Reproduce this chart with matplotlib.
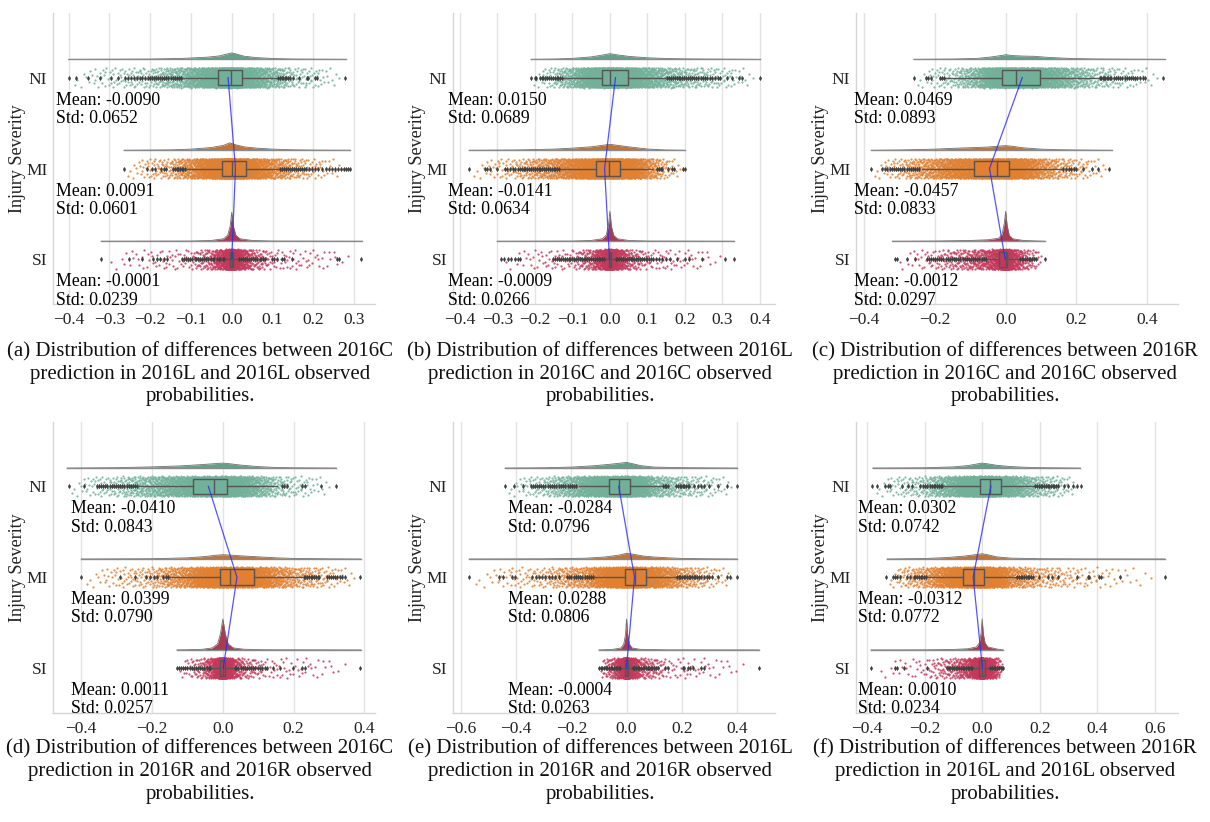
import numpy as np
import matplotlib
matplotlib.use("Agg")
import matplotlib.pyplot as plt

plt.rcParams['font.family'] = ['Liberation Serif', 'DejaVu Serif']

# ---------------------------------------------------------------- data
categories = ["NI", "MI", "SI"]

caption_line1 = ["(a) Distribution of differences between 2016C",
                 "(b) Distribution of differences between 2016L",
                 "(c) Distribution of differences between 2016R",
                 "(d) Distribution of differences between 2016C",
                 "(e) Distribution of differences between 2016L",
                 "(f) Distribution of differences between 2016R"]
caption_line2 = ["prediction in 2016L and 2016L observed",
                 "prediction in 2016C and 2016C observed",
                 "prediction in 2016C and 2016C observed",
                 "prediction in 2016R and 2016R observed",
                 "prediction in 2016R and 2016R observed",
                 "prediction in 2016L and 2016L observed"]
caption_line3 = ["probabilities."] * 6

x_ticks_a = [-0.4, -0.3, -0.2, -0.1, 0.0, 0.1, 0.2, 0.3]
x_ticks_b = [-0.4, -0.3, -0.2, -0.1, 0.0, 0.1, 0.2, 0.3, 0.4]
x_ticks_c = [-0.4, -0.2, 0.0, 0.2, 0.4]
x_ticks_d = [-0.4, -0.2, 0.0, 0.2, 0.4]
x_ticks_e = [-0.6, -0.4, -0.2, 0.0, 0.2, 0.4]
x_ticks_f = [-0.4, -0.2, 0.0, 0.2, 0.4, 0.6]

means_a = [-0.0090, 0.0091, -0.0001]
stds_a = [0.0652, 0.0601, 0.0239]
means_b = [0.0150, -0.0141, -0.0009]
stds_b = [0.0689, 0.0634, 0.0266]
means_c = [0.0469, -0.0457, -0.0012]
stds_c = [0.0893, 0.0833, 0.0297]
means_d = [-0.0410, 0.0399, 0.0011]
stds_d = [0.0843, 0.0790, 0.0257]
means_e = [-0.0284, 0.0288, -0.0004]
stds_e = [0.0796, 0.0806, 0.0263]
means_f = [0.0302, -0.0312, 0.0010]
stds_f = [0.0742, 0.0772, 0.0234]

# box stats: q1, median, q3, lower whisker, upper whisker
a_NI_box = [-0.034, -0.002, 0.024, -0.122, 0.112]
a_MI_box = [-0.023, 0.000, 0.035, -0.110, 0.114]
a_SI_box = [-0.004, 0.000, 0.004, -0.015, 0.015]
b_NI_box = [-0.021, 0.000, 0.047, -0.121, 0.148]
b_MI_box = [-0.037, -0.002, 0.027, -0.130, 0.115]
b_SI_box = [-0.003, 0.000, 0.004, -0.012, 0.012]
c_NI_box = [-0.009, 0.029, 0.097, -0.171, 0.262]
c_MI_box = [-0.090, -0.025, 0.008, -0.237, 0.155]
c_SI_box = [-0.018, 0.000, 0.004, -0.050, 0.035]
d_NI_box = [-0.085, -0.026, 0.011, -0.238, 0.152]
d_MI_box = [-0.008, 0.021, 0.087, -0.149, 0.223]
d_SI_box = [-0.008, 0.000, 0.007, -0.030, 0.028]
e_NI_box = [-0.063, -0.028, 0.012, -0.174, 0.126]
e_MI_box = [-0.004, 0.030, 0.072, -0.114, 0.180]
e_SI_box = [-0.005, 0.000, 0.005, -0.018, 0.018]
f_NI_box = [-0.008, 0.027, 0.067, -0.134, 0.180]
f_MI_box = [-0.067, -0.029, 0.006, -0.192, 0.116]
f_SI_box = [-0.010, 0.000, 0.010, -0.030, 0.024]

# outliers beyond the whiskers
a_NI_fliers = [-0.398, -0.381, -0.353, -0.322, -0.295, -0.278, -0.262, -0.255, -0.248, -0.240,
               -0.233, -0.226, -0.220, -0.213, -0.206, -0.200, -0.195, -0.190, -0.185, -0.180,
               -0.175, -0.170, -0.165, -0.160, -0.155, -0.150, -0.145, -0.140, -0.135, -0.130,
               -0.125, 0.114, 0.118, 0.122, 0.126, 0.130, 0.134, 0.138, 0.142, 0.151, 0.165,
               0.184, 0.188, 0.203, 0.208, 0.278]
a_MI_fliers = [-0.264, -0.208, -0.196, -0.188, -0.174, -0.167, -0.161, -0.143, -0.139, -0.135,
               -0.131, -0.127, -0.123, -0.119, -0.115, 0.118, 0.123, 0.128, 0.133, 0.138, 0.143,
               0.148, 0.153, 0.158, 0.163, 0.168, 0.173, 0.178, 0.183, 0.190, 0.197, 0.205,
               0.212, 0.222, 0.230, 0.238, 0.246, 0.253, 0.260, 0.267, 0.274, 0.280, 0.285, 0.290]
a_SI_fliers = [-0.320, -0.251, -0.220, -0.192, -0.184, -0.177, -0.167, -0.159, -0.122, -0.118,
               -0.112, -0.106, -0.102, -0.097, -0.091, -0.087, -0.082, -0.078, -0.072, -0.067,
               -0.062, -0.058, -0.052, -0.047, -0.043, -0.037, -0.032, -0.028, -0.022, -0.018,
               0.018, 0.023, 0.027, 0.032, 0.038, 0.042, 0.047, 0.053, 0.057, 0.062, 0.068,
               0.072, 0.077, 0.082, 0.098, 0.104, 0.110, 0.122, 0.127, 0.147, 0.257, 0.264, 0.316]
b_NI_fliers = [-0.209, -0.200, -0.196, -0.187, -0.182, -0.177, -0.172, -0.167, -0.162, -0.157,
               -0.152, -0.147, -0.142, -0.137, -0.132, -0.127, 0.153, 0.158, 0.163, 0.168,
               0.173, 0.178, 0.183, 0.188, 0.193, 0.198, 0.203, 0.208, 0.213, 0.218, 0.224,
               0.230, 0.236, 0.242, 0.248, 0.254, 0.260, 0.266, 0.272, 0.280, 0.288, 0.294,
               0.312, 0.325, 0.343, 0.351, 0.400]
b_MI_fliers = [-0.375, -0.333, -0.327, -0.320, -0.300, -0.280, -0.274, -0.267, -0.258, -0.252,
               -0.246, -0.240, -0.235, -0.230, -0.225, -0.220, -0.215, -0.210, -0.205, -0.200,
               -0.195, -0.190, -0.185, -0.180, -0.175, -0.170, -0.165, -0.160, -0.155, -0.150,
               -0.145, -0.140, -0.135, 0.125, 0.130, 0.135, 0.140, 0.155, 0.165, 0.170, 0.195,
               0.200]
b_SI_fliers = [-0.290, -0.281, -0.272, -0.263, -0.254, -0.246, -0.240, -0.152, -0.145, -0.140,
               -0.135, -0.130, -0.125, -0.120, -0.115, -0.110, -0.105, -0.100, -0.095, -0.090,
               -0.085, -0.080, -0.075, -0.070, -0.065, -0.060, -0.055, -0.050, -0.045, -0.040,
               -0.035, -0.030, -0.025, -0.020, -0.015, 0.015, 0.020, 0.025, 0.030, 0.035,
               0.040, 0.045, 0.050, 0.055, 0.060, 0.065, 0.070, 0.075, 0.080, 0.085, 0.090,
               0.095, 0.100, 0.105, 0.110, 0.115, 0.122, 0.130, 0.140, 0.150, 0.160, 0.180,
               0.200, 0.210, 0.245, 0.307, 0.330]
c_NI_fliers = [-0.258, -0.225, -0.219, -0.212, -0.187, -0.181, -0.175, 0.266, 0.270, 0.274,
               0.278, 0.282, 0.286, 0.290, 0.294, 0.298, 0.305, 0.312, 0.318, 0.324, 0.330,
               0.336, 0.342, 0.348, 0.354, 0.360, 0.366, 0.372, 0.380, 0.388, 0.393, 0.445]
c_MI_fliers = [-0.380, -0.350, -0.340, -0.334, -0.328, -0.322, -0.316, -0.310, -0.304, -0.298,
               -0.292, -0.286, -0.280, -0.274, -0.268, -0.262, -0.256, -0.250, -0.244, 0.163,
               0.170, 0.178, 0.186, 0.193, 0.200, 0.219, 0.243, 0.262, 0.293]
c_SI_fliers = [-0.313, -0.306, -0.280, -0.256, -0.223, -0.218, -0.212, -0.206, -0.200, -0.194,
               -0.188, -0.182, -0.176, -0.170, -0.164, -0.158, -0.152, -0.146, -0.140, -0.134,
               -0.128, -0.122, -0.116, -0.110, -0.104, -0.098, -0.092, -0.086, -0.080, -0.074,
               -0.068, -0.062, -0.056, 0.040, 0.045, 0.050, 0.055, 0.060, 0.065, 0.070, 0.075,
               0.080, 0.087, 0.111]
d_NI_fliers = [-0.436, -0.393, -0.356, -0.350, -0.344, -0.338, -0.332, -0.326, -0.320, -0.314,
               -0.308, -0.302, -0.296, -0.290, -0.284, -0.278, -0.272, -0.266, -0.260, -0.254,
               -0.248, -0.242, 0.167, 0.173, 0.180, 0.223, 0.231, 0.278, 0.320]
d_MI_fliers = [-0.400, -0.290, -0.249, -0.217, -0.205, -0.194, -0.186, -0.168, -0.161, -0.154,
               0.228, 0.233, 0.238, 0.243, 0.248, 0.253, 0.258, 0.263, 0.268, 0.273, 0.294,
               0.300, 0.306, 0.312, 0.318, 0.324, 0.330, 0.338, 0.345, 0.388]
d_SI_fliers = [-0.130, -0.124, -0.118, -0.112, -0.106, -0.100, -0.094, -0.088, -0.082, -0.076,
               -0.070, -0.064, -0.058, -0.052, -0.046, -0.040, -0.035, 0.033, 0.038, 0.044,
               0.050, 0.056, 0.062, 0.068, 0.074, 0.080, 0.086, 0.092, 0.098, 0.104, 0.110,
               0.118, 0.124, 0.143, 0.162, 0.198, 0.223, 0.231, 0.388]
e_NI_fliers = [-0.440, -0.407, -0.374, -0.347, -0.340, -0.333, -0.326, -0.318, -0.310, -0.302,
               -0.294, -0.286, -0.278, -0.270, -0.262, -0.254, -0.246, -0.238, -0.230, -0.222,
               -0.214, -0.206, -0.198, -0.190, -0.182, 0.132, 0.138, 0.144, 0.150, 0.180,
               0.186, 0.192, 0.198, 0.204, 0.210, 0.216, 0.222, 0.228, 0.246, 0.258, 0.270,
               0.282, 0.300, 0.330, 0.365, 0.400]
e_MI_fliers = [-0.571, -0.461, -0.447, -0.414, -0.404, -0.341, -0.330, -0.318, -0.306, -0.294,
               -0.282, -0.270, -0.258, -0.245, -0.216, -0.208, -0.200, -0.192, -0.184, -0.176,
               -0.168, -0.160, -0.152, -0.144, -0.136, -0.128, -0.120, 0.183, 0.189, 0.195,
               0.201, 0.207, 0.213, 0.219, 0.225, 0.231, 0.237, 0.243, 0.249, 0.256, 0.263,
               0.270, 0.280, 0.290, 0.300, 0.310, 0.330, 0.365, 0.375, 0.400]
e_SI_fliers = [-0.100, -0.094, -0.088, -0.082, -0.076, -0.070, -0.064, -0.058, -0.052, -0.046,
               -0.040, -0.034, -0.028, -0.022, 0.022, 0.028, 0.034, 0.040, 0.046, 0.052,
               0.058, 0.064, 0.070, 0.076, 0.082, 0.088, 0.094, 0.100, 0.106, 0.114, 0.138,
               0.150, 0.204, 0.210, 0.222, 0.231, 0.240, 0.270, 0.282, 0.479]
f_NI_fliers = [-0.384, -0.366, -0.337, -0.328, -0.320, -0.279, -0.259, -0.244, -0.215, -0.207,
               -0.199, -0.192, -0.180, -0.174, -0.168, -0.162, -0.156, -0.150, -0.144, -0.138,
               0.185, 0.191, 0.197, 0.203, 0.209, 0.215, 0.221, 0.227, 0.233, 0.239, 0.245,
               0.251, 0.257, 0.262, 0.285, 0.297, 0.314, 0.331, 0.343]
f_MI_fliers = [-0.334, -0.310, -0.302, -0.294, -0.285, -0.262, -0.250, -0.238, -0.232, -0.226,
               -0.220, -0.214, -0.208, -0.202, -0.196, 0.122, 0.128, 0.134, 0.140, 0.146,
               0.152, 0.158, 0.164, 0.170, 0.176, 0.198, 0.227, 0.244, 0.262, 0.331, 0.366,
               0.372, 0.407, 0.413, 0.477, 0.634]
f_SI_fliers = [-0.386, -0.302, -0.294, -0.273, -0.192, -0.122, -0.116, -0.110, -0.104, -0.098,
               -0.092, -0.086, -0.080, -0.074, -0.068, -0.062, -0.056, -0.050, -0.044, -0.038,
               -0.034, 0.028, 0.034, 0.040, 0.046, 0.052, 0.058, 0.064, 0.070, 0.073]

# half-violin density curves (x knots, density heights)
a_NI_kde_x = [-0.40, -0.20, -0.12, -0.06, -0.03, -0.01, 0.00, 0.01, 0.03, 0.06, 0.10, 0.15, 0.28]
a_NI_kde_h = [0.0, 0.3, 1.0, 2.2, 3.5, 5.5, 6.5, 5.5, 3.2, 1.8, 0.9, 0.3, 0.0]
a_MI_kde_x = [-0.264, -0.15, -0.10, -0.05, -0.02, -0.005, 0.01, 0.03, 0.06, 0.10, 0.15, 0.20, 0.29]
a_MI_kde_h = [0.0, 0.4, 1.2, 2.8, 5.0, 7.5, 5.5, 3.5, 2.2, 1.2, 0.5, 0.2, 0.0]
a_SI_kde_x = [-0.32, -0.10, -0.05, -0.02, -0.01, -0.004, 0.0, 0.004, 0.01, 0.02, 0.05, 0.10, 0.32]
a_SI_kde_h = [0.0, 0.2, 0.8, 2.5, 6.0, 15.0, 29.0, 15.0, 6.0, 2.5, 0.8, 0.2, 0.0]
b_NI_kde_x = [-0.21, -0.15, -0.10, -0.05, -0.02, 0.00, 0.02, 0.05, 0.10, 0.15, 0.20, 0.30, 0.40]
b_NI_kde_h = [0.0, 0.3, 1.0, 2.5, 4.3, 5.7, 4.5, 3.0, 1.6, 0.9, 0.5, 0.2, 0.0]
b_MI_kde_x = [-0.375, -0.25, -0.15, -0.10, -0.05, -0.02, 0.00, 0.02, 0.05, 0.10, 0.15, 0.20]
b_MI_kde_h = [0.0, 0.3, 1.2, 2.2, 3.5, 5.0, 6.0, 5.0, 3.5, 1.3, 0.3, 0.0]
b_SI_kde_x = [-0.30, -0.10, -0.05, -0.02, -0.01, -0.004, 0.0, 0.004, 0.01, 0.02, 0.05, 0.10, 0.33]
b_SI_kde_h = [0.0, 0.2, 0.8, 2.5, 6.0, 15.0, 30.0, 15.0, 6.0, 2.5, 0.8, 0.2, 0.0]
c_NI_kde_x = [-0.26, -0.15, -0.08, -0.04, -0.01, 0.00, 0.02, 0.05, 0.08, 0.12, 0.18, 0.25, 0.35, 0.45]
c_NI_kde_h = [0.0, 0.3, 1.0, 2.5, 4.0, 4.7, 3.8, 3.3, 3.1, 2.0, 1.0, 0.4, 0.15, 0.0]
c_MI_kde_x = [-0.38, -0.30, -0.20, -0.15, -0.10, -0.05, -0.02, 0.00, 0.02, 0.05, 0.10, 0.15, 0.20, 0.30]
c_MI_kde_h = [0.0, 0.3, 1.2, 2.0, 2.6, 3.3, 4.2, 4.7, 4.0, 2.5, 1.2, 0.6, 0.3, 0.0]
c_SI_kde_x = [-0.32, -0.20, -0.10, -0.05, -0.02, -0.01, -0.004, 0.0, 0.004, 0.01, 0.02, 0.05, 0.11]
c_SI_kde_h = [0.0, 0.2, 0.8, 1.5, 3.0, 7.0, 18.0, 30.0, 16.0, 6.0, 2.5, 0.8, 0.0]
d_NI_kde_x = [-0.44, -0.30, -0.20, -0.12, -0.06, -0.02, 0.00, 0.02, 0.05, 0.10, 0.15, 0.20, 0.32]
d_NI_kde_h = [0.0, 0.4, 1.2, 2.2, 3.5, 4.5, 5.0, 4.3, 3.0, 1.5, 0.6, 0.3, 0.0]
d_MI_kde_x = [-0.40, -0.20, -0.10, -0.05, -0.02, 0.00, 0.02, 0.05, 0.10, 0.15, 0.20, 0.30, 0.39]
d_MI_kde_h = [0.0, 0.3, 1.2, 2.5, 3.8, 4.3, 4.0, 3.2, 2.2, 1.2, 0.6, 0.2, 0.0]
d_SI_kde_x = [-0.13, -0.06, -0.03, -0.015, -0.007, 0.0, 0.007, 0.015, 0.03, 0.06, 0.12, 0.39]
d_SI_kde_h = [0.0, 0.6, 2.0, 6.0, 16.0, 31.0, 16.0, 6.0, 2.0, 0.7, 0.2, 0.0]
e_NI_kde_x = [-0.44, -0.30, -0.20, -0.12, -0.06, -0.02, 0.00, 0.02, 0.05, 0.10, 0.20, 0.40]
e_NI_kde_h = [0.0, 0.3, 1.0, 2.3, 3.8, 5.0, 5.7, 4.5, 2.5, 1.0, 0.4, 0.0]
e_MI_kde_x = [-0.57, -0.30, -0.15, -0.08, -0.03, 0.00, 0.03, 0.06, 0.10, 0.15, 0.20, 0.30, 0.40]
e_MI_kde_h = [0.0, 0.2, 0.8, 2.0, 3.8, 5.7, 4.5, 3.0, 2.0, 1.2, 0.6, 0.2, 0.0]
e_SI_kde_x = [-0.10, -0.05, -0.02, -0.01, -0.004, 0.0, 0.004, 0.01, 0.02, 0.05, 0.15, 0.48]
e_SI_kde_h = [0.0, 0.6, 2.0, 6.0, 15.0, 31.0, 15.0, 6.0, 2.0, 0.6, 0.1, 0.0]
f_NI_kde_x = [-0.38, -0.20, -0.10, -0.05, -0.02, 0.00, 0.02, 0.05, 0.10, 0.15, 0.20, 0.34]
f_NI_kde_h = [0.0, 0.3, 1.2, 2.5, 4.0, 5.0, 4.2, 2.8, 1.5, 0.8, 0.4, 0.0]
f_MI_kde_x = [-0.33, -0.20, -0.12, -0.06, -0.02, 0.00, 0.02, 0.05, 0.10, 0.20, 0.35, 0.634]
f_MI_kde_h = [0.0, 0.5, 1.5, 3.0, 4.5, 5.3, 4.2, 2.2, 0.9, 0.3, 0.1, 0.0]
f_SI_kde_x = [-0.386, -0.20, -0.10, -0.05, -0.02, -0.01, -0.004, 0.0, 0.004, 0.01, 0.02, 0.05, 0.073]
f_SI_kde_h = [0.0, 0.1, 0.5, 1.2, 3.0, 7.0, 16.0, 31.0, 16.0, 7.0, 3.0, 1.0, 0.0]

# number of observations drawn in each rain cloud
cloud_counts = [2300, 2300, 1500]

# ---------------------------------------------------------------- style
cloud_colors = ['#72b09a', '#df8032', '#c4385b']
kde_colors = ['#63a189', '#c0763a', '#a63b51']
edge_gray = '#555555'
flier_color = '#404040'
mean_line_color = '#2a2aff'

FIG_W, FIG_H = 1210, 822
AX_W, AX_H = 322, 291
col_left = [53, 453, 856]
row_top = [13, 421.7]
cap_cx = [200, 600, 1005]
cap_y = [[352, 374, 396], [749, 771.5, 794]]

xlims = {'a': (-0.438, 0.351), 'b': (-0.418, 0.44), 'c': (-0.423, 0.487),
         'd': (-0.48, 0.43), 'e': (-0.629, 0.538), 'f': (-0.438, 0.68)}
xticks = {'a': x_ticks_a, 'b': x_ticks_b, 'c': x_ticks_c,
          'd': x_ticks_d, 'e': x_ticks_e, 'f': x_ticks_f}
means = {'a': means_a, 'b': means_b, 'c': means_c, 'd': means_d, 'e': means_e, 'f': means_f}
stds = {'a': stds_a, 'b': stds_b, 'c': stds_c, 'd': stds_d, 'e': stds_e, 'f': stds_f}
boxes = {'a': [a_NI_box, a_MI_box, a_SI_box], 'b': [b_NI_box, b_MI_box, b_SI_box],
         'c': [c_NI_box, c_MI_box, c_SI_box], 'd': [d_NI_box, d_MI_box, d_SI_box],
         'e': [e_NI_box, e_MI_box, e_SI_box], 'f': [f_NI_box, f_MI_box, f_SI_box]}
fliers = {'a': [a_NI_fliers, a_MI_fliers, a_SI_fliers], 'b': [b_NI_fliers, b_MI_fliers, b_SI_fliers],
          'c': [c_NI_fliers, c_MI_fliers, c_SI_fliers], 'd': [d_NI_fliers, d_MI_fliers, d_SI_fliers],
          'e': [e_NI_fliers, e_MI_fliers, e_SI_fliers], 'f': [f_NI_fliers, f_MI_fliers, f_SI_fliers]}
kdes = {'a': [(a_NI_kde_x, a_NI_kde_h), (a_MI_kde_x, a_MI_kde_h), (a_SI_kde_x, a_SI_kde_h)],
        'b': [(b_NI_kde_x, b_NI_kde_h), (b_MI_kde_x, b_MI_kde_h), (b_SI_kde_x, b_SI_kde_h)],
        'c': [(c_NI_kde_x, c_NI_kde_h), (c_MI_kde_x, c_MI_kde_h), (c_SI_kde_x, c_SI_kde_h)],
        'd': [(d_NI_kde_x, d_NI_kde_h), (d_MI_kde_x, d_MI_kde_h), (d_SI_kde_x, d_SI_kde_h)],
        'e': [(e_NI_kde_x, e_NI_kde_h), (e_MI_kde_x, e_MI_kde_h), (e_SI_kde_x, e_SI_kde_h)],
        'f': [(f_NI_kde_x, f_NI_kde_h), (f_MI_kde_x, f_MI_kde_h), (f_SI_kde_x, f_SI_kde_h)]}

KDE_OFFSET = 0.20      # baseline of half violin above category
KDE_SCALE = 1 / 91.0   # density height -> y units
JITTER = 0.11
BOX_W = 0.17


def radical_inverse(i, base):
    out = np.zeros(len(i))
    f = 1.0 / base
    i = i.copy()
    while np.any(i > 0):
        out += f * (i % base)
        i //= base
        f /= base
    return out


def cloud_from_density(kx, kh, n):
    """Place n observations following the piecewise density (quantile placement)."""
    kx = np.asarray(kx, float)
    kh = np.asarray(kh, float)
    seg = (kh[1:] + kh[:-1]) / 2 * np.diff(kx)
    total = np.sum(seg)
    cdf = np.concatenate([[0], np.cumsum(seg)]) / total
    idx = np.arange(1, n + 1)
    u = radical_inverse(idx, 2)
    v = radical_inverse(idx, 3)
    k = np.clip(np.searchsorted(cdf, u, side='right') - 1, 0, len(kx) - 2)
    x0, x1 = kx[k], kx[k + 1]
    h0, h1 = kh[k], kh[k + 1]
    w = x1 - x0
    target = (u - cdf[k]) * total
    slope = (h1 - h0) / w
    with np.errstate(divide='ignore', invalid='ignore'):
        t_lin = np.where(h0 > 0, target / h0, 0.0)
        disc = np.maximum(h0 ** 2 + 2 * slope * target, 0)
        t_quad = (-h0 + np.sqrt(disc)) / slope
    t = np.where(np.abs(slope) < 1e-9, t_lin, t_quad)
    t = np.clip(np.nan_to_num(t), 0, w)
    return x0 + t, v


fig = plt.figure(figsize=(FIG_W / 100, FIG_H / 100), dpi=100)
letters = ['a', 'b', 'c', 'd', 'e', 'f']

for p, L in enumerate(letters):
    r, c = divmod(p, 3)
    left = col_left[c] / FIG_W
    bottom = 1 - (row_top[r] + AX_H) / FIG_H
    ax = fig.add_axes([left, bottom, AX_W / FIG_W, AX_H / FIG_H])
    ax.set_facecolor('white')

    for g in range(3):
        kx, kh = kdes[L][g]
        base = g - KDE_OFFSET
        top = base - np.asarray(kh) * KDE_SCALE
        ax.fill_between(kx, base, top, color=kde_colors[g], lw=0, zorder=2)
        ax.plot(kx, top, color='#707070', lw=0.6, zorder=2.1)
        ax.plot([kx[0], kx[-1]], [base, base], color='#8a8a8a', lw=1.0, zorder=2.1)

        xs, v = cloud_from_density(kx, kh, cloud_counts[g])
        ys = g + (v - 0.5) * 2 * JITTER
        ax.scatter(xs, ys, s=2.6, color=cloud_colors[g], alpha=0.85, lw=0, zorder=3)

        q1, med, q3, lo, hi = boxes[L][g]
        stats = [dict(q1=q1, med=med, q3=q3, whislo=lo, whishi=hi,
                      fliers=np.asarray(fliers[L][g]))]
        bp = ax.bxp(stats, positions=[g], widths=BOX_W, orientation='horizontal',
                    patch_artist=True, showcaps=False, manage_ticks=False,
                    boxprops=dict(facecolor=cloud_colors[g], edgecolor=edge_gray, linewidth=1.0),
                    medianprops=dict(color=edge_gray, linewidth=1.0),
                    whiskerprops=dict(color=edge_gray, linewidth=1.0),
                    flierprops=dict(marker='d', markersize=2.4, markerfacecolor=flier_color,
                                    markeredgecolor=flier_color, markeredgewidth=0.2))
        for patch in bp['boxes']:
            patch.set_facecolor(matplotlib.colors.to_rgba(cloud_colors[g], 0.45))
            patch.set_zorder(4)
        for k in ('medians', 'whiskers', 'fliers'):
            for a in bp[k]:
                a.set_zorder(4.5)

        ax.text(-0.43, g + 0.297, f"Mean: {means[L][g]:.4f}", fontsize=12.8,
                ha='left', va='baseline', zorder=7)
        ax.text(-0.43, g + 0.498, f"Std: {stds[L][g]:.4f}", fontsize=12.8,
                ha='left', va='baseline', zorder=7)

    ax.plot(means[L], [0, 1, 2], color=mean_line_color, lw=0.9, alpha=0.8, zorder=8)

    ax.set_xlim(*xlims[L])
    ax.set_ylim(2.49, -0.71)
    ax.set_xticks(xticks[L])
    ax.set_yticks([0, 1, 2])
    ax.set_yticklabels(categories)
    ax.tick_params(axis='both', length=0, labelsize=12.5, colors='#222222')
    ax.tick_params(axis='x', pad=6)
    ax.tick_params(axis='y', pad=4)
    ax.grid(axis='x', color='#e3e3e3', lw=1.0)
    ax.grid(axis='y', visible=False)
    ax.set_axisbelow(True)
    for s in ('top', 'right'):
        ax.spines[s].set_visible(False)
    for s in ('left', 'bottom'):
        ax.spines[s].set_color('#d6d6d6')
        ax.spines[s].set_linewidth(1.0)
    ax.set_ylabel('Injury Severity', fontsize=13, color='#222222')
    ax.yaxis.set_label_coords(-0.084, 0.5)

    for li, line in enumerate([caption_line1[p], caption_line2[p], caption_line3[p]]):
        fig.text(cap_cx[c] / FIG_W, 1 - cap_y[r][li] / FIG_H, line, ha='center',
                 va='center', fontsize=15.0, color='#111111')

fig.savefig('out.png', dpi=100, facecolor='white')
